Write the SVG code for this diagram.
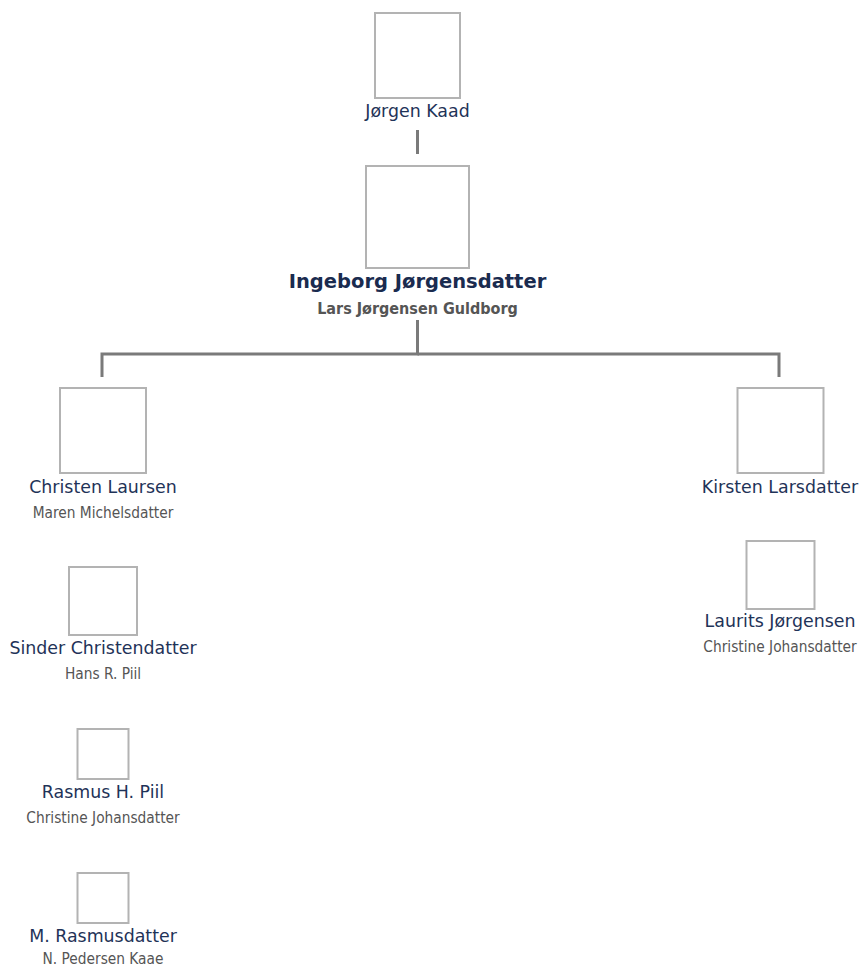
<svg xmlns="http://www.w3.org/2000/svg" width="861" height="969" viewBox="0 0 861 969">
<style>
.box{fill:#fff;stroke:#b3b3b3;stroke-width:2}
.nm{font-family:"DejaVu Sans",Verdana,sans-serif;font-size:17.4px;fill:#1f3358;text-anchor:middle}
.main{font-family:"DejaVu Sans",Verdana,sans-serif;font-size:19.5px;font-weight:bold;fill:#1a2b4f;text-anchor:middle}
.msp{font-family:"DejaVu Sans Condensed","DejaVu Sans",sans-serif;font-size:16px;font-weight:bold;fill:#555;text-anchor:middle}
.sp{font-family:"DejaVu Sans Condensed","DejaVu Sans",sans-serif;font-size:15.3px;fill:#555;text-anchor:middle}
.ln{fill:none;stroke:#7a7a7a;stroke-width:3}
</style>
<rect width="861" height="969" fill="#fff"/>
<g id="connectors">
<line class="ln" x1="417.5" y1="130" x2="417.5" y2="154"/>
<polyline class="ln" points="417.5,320 417.5,354 102,354 102,377"/>
<polyline class="ln" points="417.5,354 779,354 779,377"/>
</g>
<g id="jorgen-kaad">
<rect class="box" x="375" y="13" width="85" height="85"/>
<text class="nm" x="417.5" y="117">Jørgen Kaad</text>
</g>
<g id="ingeborg">
<rect class="box" x="366" y="166" width="103" height="102"/>
<text class="main" x="417.5" y="288">Ingeborg Jørgensdatter</text>
<text class="msp" x="417.5" y="314">Lars Jørgensen Guldborg</text>
</g>
<g id="christen">
<rect class="box" x="60" y="388" width="86" height="85"/>
<text class="nm" x="103" y="493">Christen Laursen</text>
<text class="sp" x="103" y="518">Maren Michelsdatter</text>
</g>
<g id="sinder">
<rect class="box" x="69" y="567" width="68" height="68"/>
<text class="nm" x="103" y="654">Sinder Christendatter</text>
<text class="sp" x="103" y="679">Hans R. Piil</text>
</g>
<g id="rasmus">
<rect class="box" x="77.5" y="729" width="51" height="50"/>
<text class="nm" x="103" y="798">Rasmus H. Piil</text>
<text class="sp" x="103" y="823">Christine Johansdatter</text>
</g>
<g id="m-rasmusdatter">
<rect class="box" x="77.5" y="873" width="51" height="50"/>
<text class="nm" x="103" y="942">M. Rasmusdatter</text>
<text class="sp" x="103" y="964">N. Pedersen Kaae</text>
</g>
<g id="kirsten">
<rect class="box" x="737.5" y="388" width="86" height="85"/>
<text class="nm" x="780" y="493">Kirsten Larsdatter</text>
</g>
<g id="laurits">
<rect class="box" x="746.5" y="541" width="68" height="68"/>
<text class="nm" x="780" y="627">Laurits Jørgensen</text>
<text class="sp" x="780" y="652">Christine Johansdatter</text>
</g>
</svg>
